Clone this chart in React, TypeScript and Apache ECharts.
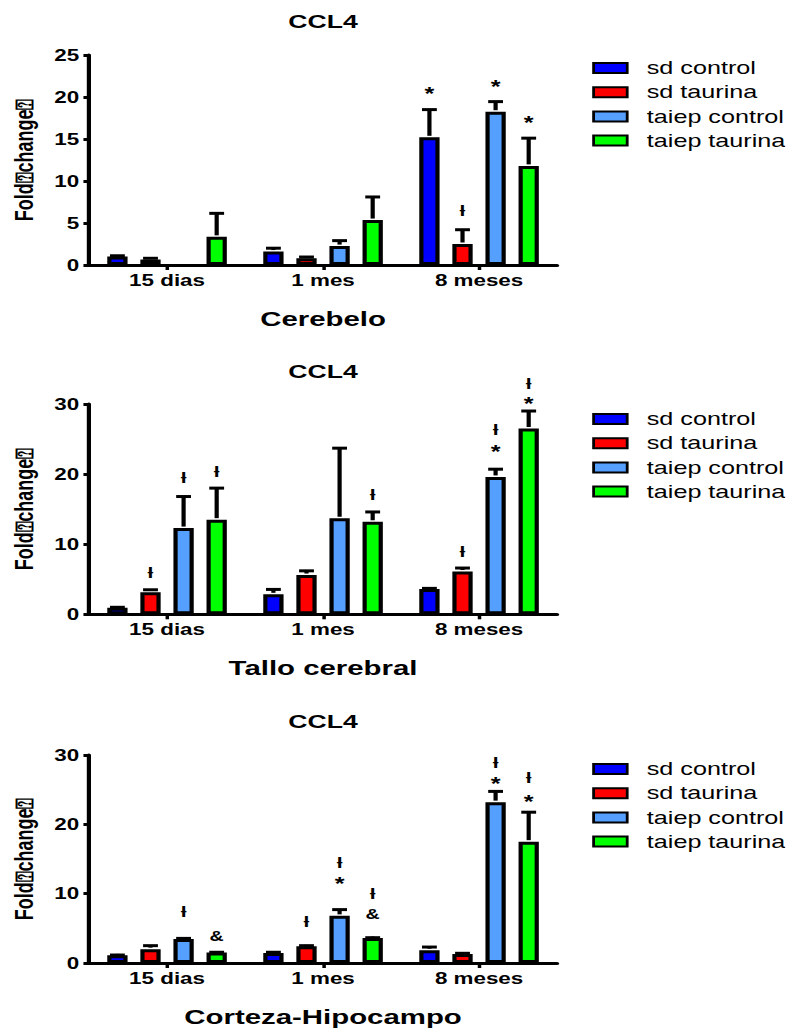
import React, { useEffect, useRef } from "react";
import * as echarts from "echarts";

// ---------- data ----------
const categories = ["15 dias", "1 mes", "8 meses"];
const seriesNames = ["sd control", "sd taurina", "taiep control", "taiep taurina"];
const seriesColors = ["#0000ff", "#ff0000", "#559fff", "#00ff00"];
const panelTitles = ["CCL4", "CCL4", "CCL4"];
const panelNames = ["Cerebelo", "Tallo cerebral", "Corteza-Hipocampo"];
const yTitle = "Fold\u2370change\u2370";
const yMax = [25, 30, 30];
const yInterval = [5, 10, 10];

// Cerebelo
const cerSdControl = [1.0, 1.6, 15.2];
const cerSdTaurina = [0.65, 0.8, 2.5];
const cerTaiepControl = [null, 2.25, 18.25];
const cerTaiepTaurina = [3.35, 5.35, 11.8];
const cerSdControlErr = [0.1, 0.4, 3.3];
const cerSdTaurinaErr = [0.15, 0.15, 1.7];
const cerTaiepControlErr = [0, 0.65, 1.2];
const cerTaiepTaurinaErr = [2.8, 2.75, 3.3];

// Tallo cerebral
const talSdControl = [0.95, 2.85, 3.6];
const talSdTaurina = [3.15, 5.6, 6.1];
const talTaiepControl = [12.3, 13.7, 19.6];
const talTaiepTaurina = [13.5, 13.2, 26.5];
const talSdControlErr = [0.05, 0.7, 0.1];
const talSdTaurinaErr = [0.35, 0.6, 0.5];
const talTaiepControlErr = [4.5, 10.0, 1.1];
const talTaiepTaurinaErr = [4.5, 1.4, 2.5];

// Corteza-Hipocampo
const corSdControl = [1.1, 1.45, 1.85];
const corSdTaurina = [2.0, 2.4, 1.3];
const corTaiepControl = [3.45, 6.8, 23.2];
const corTaiepTaurina = [1.5, 3.6, 17.5];
const corSdControlErr = [0.05, 0.1, 0.45];
const corSdTaurinaErr = [0.5, 0.1, 0.1];
const corTaiepControlErr = [0.1, 0.9, 1.55];
const corTaiepTaurinaErr = [0.05, 0.05, 4.25];

// annotations: [category index, series index, label, y value]
const cerAnnot: [number, number, string, number][] = [
  [2, 0, "*", 21.0],
  [2, 1, "\u019a", 6.46],
  [2, 2, "*", 21.8],
  [2, 3, "*", 17.5],
];
const talAnnot: [number, number, string, number][] = [
  [0, 1, "\u019a", 5.9],
  [0, 2, "\u019a", 19.5],
  [0, 3, "\u019a", 20.4],
  [1, 3, "\u019a", 17.0],
  [2, 1, "\u019a", 8.9],
  [2, 2, "\u019a", 26.3],
  [2, 2, "*", 23.9],
  [2, 3, "\u019a", 32.9],
  [2, 3, "*", 30.8],
];
const corAnnot: [number, number, string, number][] = [
  [0, 2, "\u019a", 7.4],
  [0, 3, "&", 3.8],
  [1, 1, "\u019a", 6.0],
  [1, 2, "\u019a", 14.5],
  [1, 2, "*", 12.1],
  [1, 3, "\u019a", 10.0],
  [1, 3, "&", 7.0],
  [2, 2, "\u019a", 28.9],
  [2, 2, "*", 26.5],
  [2, 3, "\u019a", 26.8],
  [2, 3, "*", 24.0],
];

const panels = [
  {
    values: [cerSdControl, cerSdTaurina, cerTaiepControl, cerTaiepTaurina],
    errs: [cerSdControlErr, cerSdTaurinaErr, cerTaiepControlErr, cerTaiepTaurinaErr],
    annot: cerAnnot,
  },
  {
    values: [talSdControl, talSdTaurina, talTaiepControl, talTaiepTaurina],
    errs: [talSdControlErr, talSdTaurinaErr, talTaiepControlErr, talTaiepTaurinaErr],
    annot: talAnnot,
  },
  {
    values: [corSdControl, corSdTaurina, corTaiepControl, corTaiepTaurina],
    errs: [corSdControlErr, corSdTaurinaErr, corTaiepControlErr, corTaiepTaurinaErr],
    annot: corAnnot,
  },
];

// ---------- layout ----------
const SX = 1.4; // horizontal stretch of the reference
const W = 786 / SX;
const H = 1028;
const FONT = "'Liberation Sans', Arial, sans-serif";
const GRID_LEFT = 63.6;
const GRID_W = 334.3;
const gridTops = [55, 404, 755];
const gridHeights = [210, 210.3, 210];
const titleTops = [12, 362, 712];
const legendTops = [59, 410, 760];
const BAR_W = 14.5;
const BAR_GAP = 0.63;
const SPACING = BAR_W * (1 + BAR_GAP);
const CAP = 5.3;

function buildOption() {
  const grid: any[] = [];
  const xAxis: any[] = [];
  const yAxis: any[] = [];
  const title: any[] = [];
  const legend: any[] = [];
  const series: any[] = [];

  panels.forEach((p, pi) => {
    grid.push({ left: GRID_LEFT, top: gridTops[pi], width: GRID_W, height: gridHeights[pi] });
    title.push({
      text: panelTitles[pi],
      left: GRID_LEFT + GRID_W / 2,
      top: titleTops[pi],
      textAlign: "center",
      padding: 0,
      textStyle: { fontFamily: FONT, fontSize: 19, fontWeight: "bold", color: "#000" },
    });
    legend.push({
      data: seriesNames,
      orient: "vertical",
      left: 423,
      top: legendTops[pi],
      itemWidth: 24,
      itemHeight: 10,
      itemGap: 6.2,
      icon: "rect",
      padding: 0,
      selectedMode: false,
      textStyle: { fontFamily: FONT, fontSize: 18, color: "#000", padding: [0, 0, 0, 9] },
    });
    xAxis.push({
      type: "category",
      gridIndex: pi,
      data: categories,
      axisLine: { show: true, lineStyle: { color: "#000", width: 3 } },
      axisTick: { show: true, alignWithLabel: true, length: 5, lineStyle: { color: "#000", width: 2.5 } },
      axisLabel: { fontFamily: FONT, fontSize: 16, fontWeight: "bold", color: "#000", margin: 7 },
      name: panelNames[pi],
      nameLocation: "middle",
      nameGap: 43,
      nameTextStyle: { fontFamily: FONT, fontSize: 21, fontWeight: "bold", color: "#000" },
    });
    yAxis.push({
      type: "value",
      gridIndex: pi,
      min: 0,
      max: yMax[pi],
      interval: yInterval[pi],
      splitLine: { show: false },
      axisLine: { show: true, lineStyle: { color: "#000", width: 3 } },
      axisTick: { show: true, length: 4, lineStyle: { color: "#000", width: 3 } },
      axisLabel: { fontFamily: FONT, fontSize: 16, fontWeight: "bold", color: "#000", margin: 7 },
      name: yTitle,
      nameLocation: "middle",
      nameGap: 37,
      nameTextStyle: { fontFamily: FONT, fontSize: 18, fontWeight: "bold", color: "#000" },
    });

    p.values.forEach((vals, si) => {
      series.push({
        type: "bar",
        name: seriesNames[si],
        xAxisIndex: pi,
        yAxisIndex: pi,
        data: vals.map((v) => (v == null ? "-" : v)),
        barWidth: BAR_W,
        barGap: BAR_GAP * 100 + "%",
        itemStyle: { color: seriesColors[si], borderColor: "#000", borderWidth: 3 },
        emphasis: { disabled: true },
      });
    });

    const errData: any[] = [];
    p.values.forEach((vals, si) => {
      vals.forEach((v, ci) => {
        if (v != null && p.errs[si][ci] > 0) errData.push([ci, v, si, p.errs[si][ci]]);
      });
    });
    series.push({
      type: "custom",
      xAxisIndex: pi,
      yAxisIndex: pi,
      encode: { x: 0, y: 1 },
      data: errData,
      z: 3,
      silent: true,
      renderItem: (params: any, api: any) => {
        const ci = api.value(0);
        const m = api.value(1);
        const si = api.value(2);
        const e = api.value(3);
        const p0 = api.coord([ci, m]);
        const p1 = api.coord([ci, m + e]);
        const x = p0[0] + (si - 1.5) * SPACING;
        return {
          type: "group",
          children: [
            { type: "line", shape: { x1: x, y1: p0[1] - 1.5, x2: x, y2: p1[1] }, style: { stroke: "#000", lineWidth: 3 } },
            { type: "line", shape: { x1: x - CAP, y1: p1[1], x2: x + CAP, y2: p1[1] }, style: { stroke: "#000", lineWidth: 3 } },
          ],
        };
      },
    });

    const ann = p.annot;
    series.push({
      type: "custom",
      xAxisIndex: pi,
      yAxisIndex: pi,
      encode: { x: 0, y: 1 },
      data: ann.map((a) => [a[0], a[3]]),
      z: 4,
      silent: true,
      renderItem: (params: any, api: any) => {
        const a = ann[params.dataIndex];
        const pt = api.coord([a[0], a[3]]);
        const x = pt[0] + (a[1] - 1.5) * SPACING;
        const lab = a[2];
        const fs = lab === "*" ? 18 : lab === "&" ? 14 : 15;
        const dy = lab === "*" ? 5 : 0;
        return {
          type: "text",
          x,
          y: pt[1] + dy,
          style: {
            text: lab,
            align: "center",
            verticalAlign: "middle",
            fontFamily: FONT,
            fontSize: fs,
            fontWeight: "bold",
            fill: "#000",
          },
        };
      },
    });
  });

  return { animation: false, backgroundColor: "#fff", grid, xAxis, yAxis, title, legend, series };
}

export default function App() {
  const ref = useRef<HTMLDivElement>(null);
  useEffect(() => {
    if (!ref.current) return;
    const chart = echarts.init(ref.current, null, { renderer: "svg" });
    chart.setOption(buildOption() as any);
    return () => chart.dispose();
  }, []);
  return (
    <div
      ref={ref}
      style={{
        position: "absolute",
        left: 0,
        top: 0,
        width: W,
        height: H,
        transform: `scaleX(${SX})`,
        transformOrigin: "0 0",
        background: "#fff",
      }}
    />
  );
}
